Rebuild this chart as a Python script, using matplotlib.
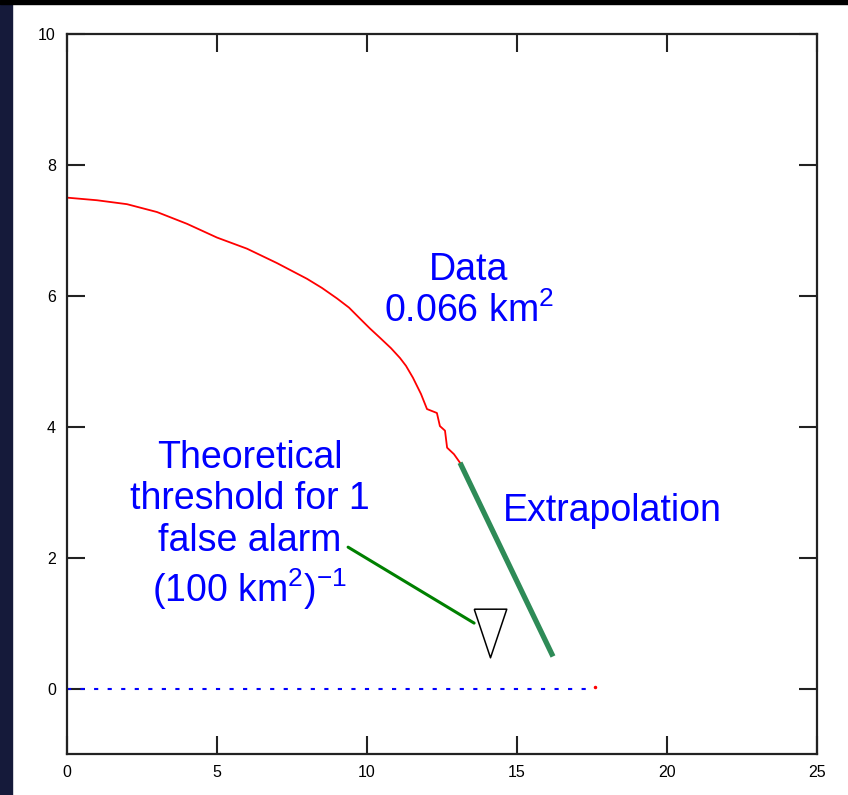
import numpy as np
import matplotlib
matplotlib.use('Agg')
import matplotlib.pyplot as plt
from matplotlib.patches import Rectangle

plt.rcParams['font.family'] = ['Liberation Sans', 'DejaVu Sans']
plt.rcParams['mathtext.fontset'] = 'custom'
plt.rcParams['mathtext.rm'] = 'Liberation Sans'
plt.rcParams['mathtext.it'] = 'Liberation Sans:italic'

# data
data_x = [0, 1, 2, 3, 4, 5, 6, 7, 8, 8.5, 9, 9.4, 9.77, 10.1, 10.43, 10.8, 11.1, 11.3, 11.53, 11.8,
          12.0, 12.33, 12.43, 12.6, 12.67, 12.9, 13.1]
data_y = [7.50, 7.46, 7.40, 7.28, 7.10, 6.89, 6.72, 6.50, 6.26, 6.12, 5.96, 5.82, 5.65, 5.50, 5.36,
          5.20, 5.05, 4.93, 4.75, 4.50, 4.27, 4.21, 4.01, 3.94, 3.68, 3.58, 3.45]
extrap_x = [13.1, 16.2]
extrap_y = [3.45, 0.49]
zero_x = [0, 17.5]
zero_y = [0, 0]
end_x, end_y = 17.6, 0.03
thresh_x, thresh_y = 14.1, 0.85
xticks = [0, 5, 10, 15, 20, 25]
yticks = [0, 2, 4, 6, 8, 10]

fig = plt.figure(figsize=(8.48, 7.95), dpi=100, facecolor='white')
# dark slide background strips
fig.patches.append(Rectangle((0, 0), 12 / 848, 1, transform=fig.transFigure, color='#151a3a', zorder=0))
fig.patches.append(Rectangle((0, 1 - 4 / 795), 1, 4 / 795, transform=fig.transFigure, color='black', zorder=0))

ax = fig.add_axes([67 / 848, 41 / 795, 750 / 848, 720 / 795])
ax.set_xlim(0, 25)
ax.set_ylim(-1, 10)

ax.plot(zero_x, zero_y, color='blue', lw=1.5, linestyle=(0, (2, 4.5)))
ax.plot(data_x, data_y, color='red', lw=1.3)
ax.plot([end_x], [end_y], 'o', color='red', ms=1.5)
ax.plot(extrap_x, extrap_y, color='#2e8b57', lw=3.8, solid_capstyle='butt')

tri = [(-0.67, 1), (0.67, 1), (0, -1), (-0.67, 1)]
ax.plot([thresh_x], [thresh_y], marker=tri, ms=35, mfc='white', mec='black', mew=1.1)

ax.annotate('', xy=(13.57, 1.0), xytext=(9.37, 2.16),
            arrowprops=dict(arrowstyle='-', color='#008000', lw=2.2, shrinkA=0, shrinkB=0))

ax.text(6.1, 2.49, 'Theoretical\nthreshold for 1\nfalse alarm\n(100 km$^{2}$)$^{-1}$',
        color='blue', fontsize=27, ha='center', va='center', linespacing=1.2)
ax.text(13.4, 6.08, 'Data\n0.066 km$^{2}$', color='blue', fontsize=27,
        ha='center', va='center', linespacing=1.15)
ax.text(18.17, 2.71, 'Extrapolation', color='blue', fontsize=27, ha='center', va='center')

ax.set_xticks(xticks)
ax.set_yticks(yticks)
ax.tick_params(direction='in', length=13, width=1.5, color='#222222',
               top=True, right=True, labelsize=11.5, pad=8)
for s in ax.spines.values():
    s.set_linewidth(1.6)
    s.set_color('#222222')

fig.savefig('out.png', dpi=100, facecolor='white')
